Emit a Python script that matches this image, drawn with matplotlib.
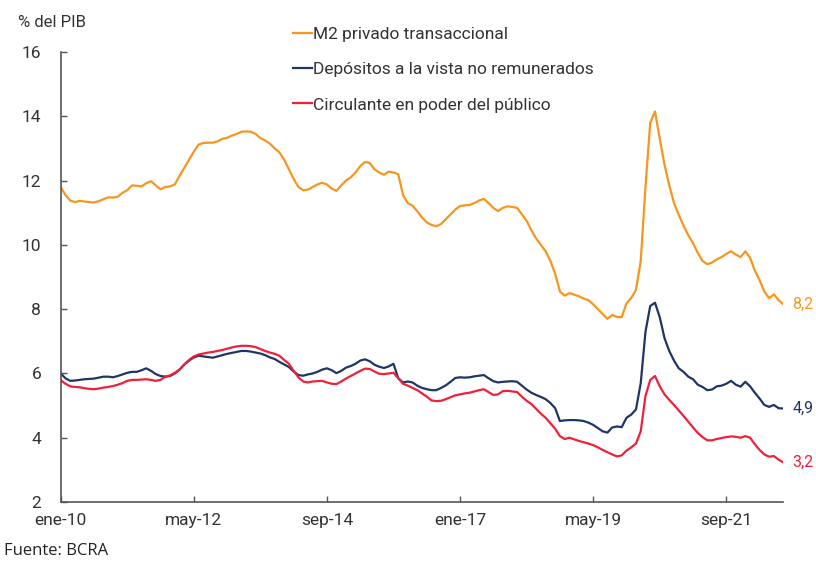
import matplotlib.pyplot as plt

plt.rcParams["font.family"] = ["Roboto", "DejaVu Sans"]

# Monthly series, ene-10 .. sep-22 (% del PIB)
m2_privado = [
    11.80, 11.55, 11.38, 11.33, 11.37, 11.35, 11.33, 11.32, 11.36, 11.42,
    11.48, 11.47, 11.50, 11.62, 11.70, 11.85, 11.84, 11.82, 11.92, 11.98,
    11.85, 11.73, 11.80, 11.82, 11.88, 12.15, 12.40, 12.65, 12.90, 13.12,
    13.17, 13.18, 13.18, 13.22, 13.30, 13.33, 13.40, 13.45, 13.52, 13.53,
    13.52, 13.45, 13.32, 13.25, 13.15, 13.00, 12.88, 12.65, 12.35, 12.05,
    11.80, 11.70, 11.72, 11.80, 11.88, 11.93, 11.88, 11.75, 11.68, 11.85,
    12.00, 12.10, 12.25, 12.45, 12.58, 12.55, 12.35, 12.25, 12.18, 12.28,
    12.25, 12.20, 11.55, 11.30, 11.22, 11.05, 10.85, 10.70, 10.62, 10.58,
    10.65, 10.80, 10.95, 11.10, 11.21, 11.23, 11.24, 11.30, 11.38, 11.43,
    11.30, 11.15, 11.05, 11.15, 11.20, 11.18, 11.15, 10.95, 10.75, 10.45,
    10.20, 10.00, 9.80, 9.50, 9.10, 8.55, 8.42, 8.50, 8.45, 8.40,
    8.33, 8.28, 8.15, 8.00, 7.85, 7.70, 7.82, 7.76, 7.75, 8.18,
    8.35, 8.60, 9.50, 11.80, 13.80, 14.15, 13.30, 12.50, 11.85, 11.30,
    10.93, 10.60, 10.30, 10.05, 9.75, 9.50, 9.40, 9.45, 9.55, 9.62,
    9.72, 9.80, 9.70, 9.62, 9.80, 9.60, 9.20, 8.90, 8.55, 8.34,
    8.46, 8.28, 8.15,
]
depositos_vista = [
    6.00, 5.85, 5.77, 5.78, 5.80, 5.82, 5.83, 5.84, 5.87, 5.90,
    5.90, 5.88, 5.92, 5.97, 6.02, 6.05, 6.05, 6.10, 6.16, 6.08,
    5.98, 5.92, 5.90, 5.92, 6.00, 6.12, 6.28, 6.40, 6.50, 6.55,
    6.53, 6.51, 6.49, 6.53, 6.57, 6.61, 6.64, 6.67, 6.70, 6.70,
    6.68, 6.65, 6.62, 6.57, 6.50, 6.45, 6.36, 6.28, 6.20, 6.06,
    5.95, 5.93, 5.97, 6.00, 6.05, 6.12, 6.16, 6.10, 6.01, 6.08,
    6.18, 6.23, 6.30, 6.40, 6.44, 6.38, 6.27, 6.21, 6.17, 6.22,
    6.30, 5.85, 5.72, 5.75, 5.72, 5.62, 5.55, 5.51, 5.48, 5.48,
    5.55, 5.63, 5.74, 5.86, 5.88, 5.87, 5.88, 5.91, 5.93, 5.95,
    5.85, 5.76, 5.72, 5.74, 5.75, 5.76, 5.74, 5.62, 5.50, 5.40,
    5.33, 5.27, 5.20, 5.08, 4.92, 4.52, 4.54, 4.55, 4.55, 4.54,
    4.52, 4.47, 4.40, 4.30, 4.20, 4.16, 4.32, 4.35, 4.33, 4.62,
    4.72, 4.88, 5.70, 7.30, 8.10, 8.20, 7.75, 7.10, 6.70, 6.40,
    6.16, 6.05, 5.90, 5.82, 5.65, 5.58, 5.48, 5.50, 5.60, 5.62,
    5.68, 5.77, 5.65, 5.59, 5.74, 5.60, 5.40, 5.22, 5.02, 4.96,
    5.02, 4.92, 4.91,
]
circulante = [
    5.79, 5.68, 5.60, 5.58, 5.57, 5.54, 5.52, 5.51, 5.53, 5.56,
    5.58, 5.61, 5.65, 5.70, 5.77, 5.80, 5.80, 5.81, 5.82, 5.80,
    5.77, 5.80, 5.90, 5.94, 6.02, 6.12, 6.28, 6.42, 6.53, 6.59,
    6.62, 6.65, 6.67, 6.70, 6.73, 6.77, 6.81, 6.84, 6.86, 6.86,
    6.85, 6.82, 6.76, 6.70, 6.65, 6.61, 6.55, 6.42, 6.30, 6.08,
    5.88, 5.75, 5.72, 5.75, 5.76, 5.77, 5.72, 5.68, 5.67, 5.75,
    5.84, 5.92, 6.00, 6.08, 6.15, 6.14, 6.06, 5.99, 5.98, 6.00,
    6.02, 5.85, 5.68, 5.62, 5.55, 5.48, 5.38, 5.28, 5.16, 5.14,
    5.15, 5.20, 5.26, 5.32, 5.35, 5.38, 5.40, 5.44, 5.48, 5.51,
    5.42, 5.33, 5.35, 5.45, 5.46, 5.44, 5.42, 5.28, 5.15, 5.05,
    4.90, 4.75, 4.62, 4.45, 4.28, 4.05, 3.96, 4.00, 3.95, 3.90,
    3.86, 3.82, 3.77, 3.70, 3.62, 3.55, 3.48, 3.42, 3.45, 3.60,
    3.70, 3.82, 4.20, 5.30, 5.80, 5.92, 5.60, 5.35, 5.18, 5.02,
    4.85, 4.68, 4.50, 4.32, 4.15, 4.02, 3.92, 3.92, 3.96, 3.99,
    4.02, 4.04, 4.03, 4.00, 4.05, 4.00, 3.80, 3.62, 3.48, 3.41,
    3.43, 3.32, 3.23,
]
tick_labels = ["ene-10", "may-12", "sep-14", "ene-17", "may-19", "sep-21"]
series_names = [
    "M2 privado transaccional",
    "Depósitos a la vista no remunerados",
    "Circulante en poder del público",
]
end_labels = ["8,2", "4,9", "3,2"]

COLORS = ["#F7961E", "#1F3564", "#F0203A"]
TEXT = "#333333"


def main():
    fig = plt.figure(figsize=(8.16, 5.63), dpi=100)
    ax = fig.add_axes([0.0744, 0.1083, 0.8856, 0.7993])

    months = list(range(len(m2_privado)))
    all_series = [m2_privado, depositos_vista, circulante]
    for values, name, color in zip(all_series, series_names, COLORS):
        ax.plot(months, values, color=color, linewidth=1.6, label=name)

    for values, text, color in zip(all_series, end_labels, COLORS):
        ax.annotate(text, xy=(months[-1], values[-1]), xytext=(6.5, 0),
                    textcoords="offset points", color=color, fontsize=11.5,
                    va="center", ha="left", annotation_clip=False)

    ax.set_xlim(0, months[-1])
    ax.set_ylim(2, 16)
    ax.set_yticks(range(2, 17, 2))
    ax.set_xticks(range(0, 28 * len(tick_labels), 28))
    ax.set_xticklabels(tick_labels)

    for side in ("top", "right"):
        ax.spines[side].set_visible(False)
    for side in ("left", "bottom"):
        ax.spines[side].set_color("#555555")
        ax.spines[side].set_linewidth(1.2)
    ax.tick_params(axis="both", direction="in", length=4, width=1,
                   color="#555555", labelsize=12.5, labelcolor=TEXT)
    ax.tick_params(axis="y", pad=14)
    ax.tick_params(axis="x", pad=8)

    fig.text(0.022, 0.96, "% del PIB", fontsize=12, color=TEXT, va="center")
    fig.text(0.005, 0.022, "Fuente: BCRA", fontsize=12, color="#222222",
             family=["Open Sans", "DejaVu Sans"], va="center")

    ax.legend(loc="upper left", bbox_to_anchor=(0.3, 1.09), frameon=False,
              fontsize=12.5, handlelength=1.1, handletextpad=0.05,
              labelspacing=1.15, labelcolor=TEXT)

    fig.savefig("out.png", dpi=100)
    plt.close(fig)


if __name__ == "__main__":
    main()
